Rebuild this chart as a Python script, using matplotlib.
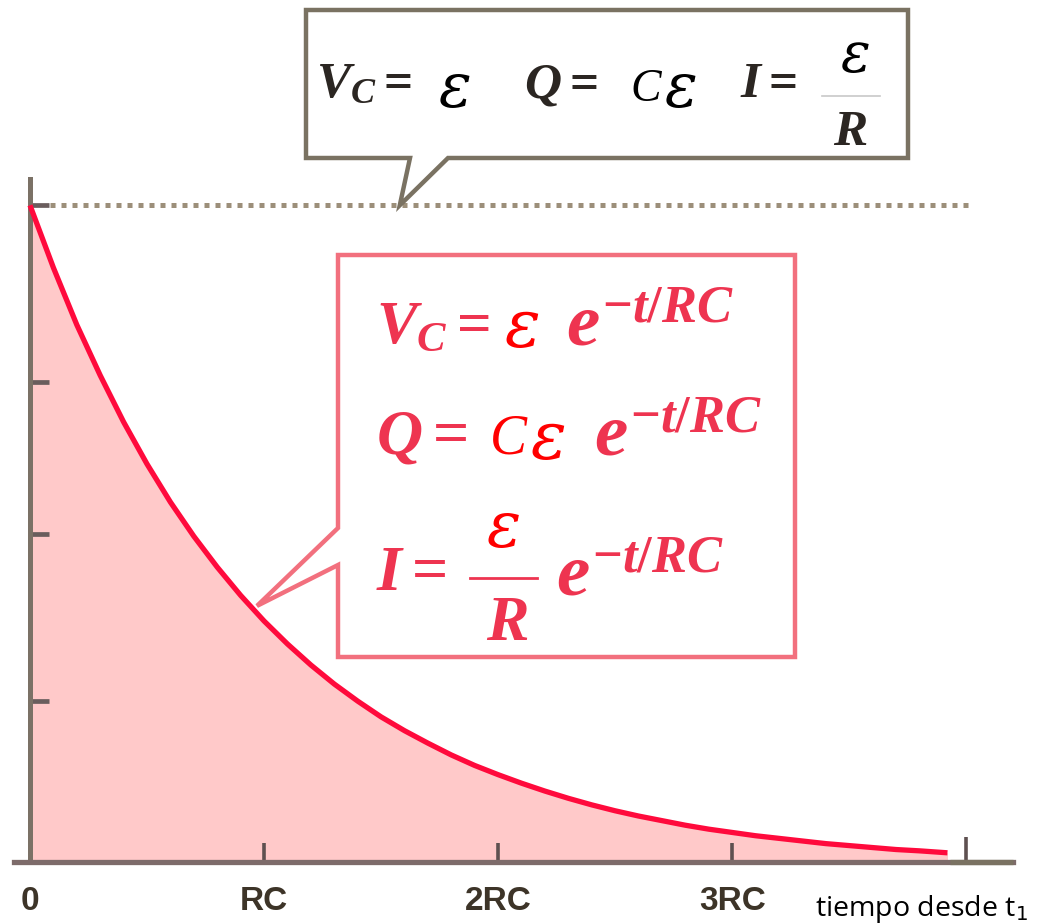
import numpy as np
import matplotlib
matplotlib.use("Agg")
import matplotlib.pyplot as plt
from matplotlib.patches import Polygon
from matplotlib.transforms import Affine2D

plt.rcParams['mathtext.fontset'] = 'custom'
plt.rcParams['mathtext.rm'] = 'Liberation Serif:bold'
plt.rcParams['mathtext.it'] = 'Liberation Serif:italic:bold'
plt.rcParams['mathtext.bf'] = 'Liberation Serif:bold'

# curve (time in units of RC, value as fraction of the final value)
t_rc = [0.0, 0.1, 0.2, 0.3, 0.4, 0.5, 0.6, 0.7, 0.8, 0.9,
        1.0, 1.1, 1.2, 1.3, 1.4, 1.5, 1.6, 1.7, 1.8, 1.9,
        2.0, 2.1, 2.2, 2.3, 2.4, 2.5, 2.6, 2.7, 2.8, 2.9,
        3.0, 3.1, 3.2, 3.3, 3.4, 3.5, 3.6, 3.7, 3.8, 3.92]
v_frac = [1.000, 0.905, 0.818, 0.741, 0.670, 0.606, 0.548, 0.496, 0.449, 0.406,
          0.367, 0.332, 0.300, 0.271, 0.245, 0.221, 0.200, 0.181, 0.163, 0.147,
          0.133, 0.120, 0.108, 0.097, 0.087, 0.078, 0.070, 0.063, 0.056, 0.050,
          0.045, 0.040, 0.036, 0.032, 0.028, 0.025, 0.022, 0.019, 0.017, 0.014]

xtick_pos = [0, 1, 2, 3, 4]
xtick_labels = ['0', 'RC', '2RC', '3RC', '']
ytick_pos = [0.245, 0.5, 0.731, 1.0]

asymptote = 1.0
tip_top = (1.58, 1.0)      # where the upper callout points
tip_curve = (0.97, 0.39)   # where the pink callout points

W, H = 1040, 923
fig = plt.figure(figsize=(W / 100, H / 100), dpi=100)
ax = fig.add_axes([13.6 / W, 1 - 862 / H, (1013 - 13.6) / W, (862 - 179) / H])
ax.set_xlim(-0.07, 4.2)
ax.set_ylim(0, 1.04)
ax.patch.set_alpha(0)

# fill + curve
ax.fill_between(t_rc, v_frac, 0, color='#ffc9c9', lw=0, zorder=1)
ax.plot(t_rc, v_frac, color='#ff0a3c', lw=3.8, solid_capstyle='butt', zorder=3)

# dotted asymptote
ax.plot([0.085, 4.01], [asymptote, asymptote], color='#9c8f7a', lw=3.6,
        ls=(0, (1, 1.2)), dash_capstyle='butt', zorder=2, clip_on=False)

# spines
for s in ['top', 'right']:
    ax.spines[s].set_visible(False)
ax.spines['left'].set_position(('data', 0))
ax.spines['left'].set_color('#7b7166')
ax.spines['left'].set_linewidth(3.6)
ax.spines['bottom'].set_color('#7d6b6a')
ax.spines['bottom'].set_linewidth(3.8)
ax.spines['bottom'].set_zorder(2.5)
ax.plot([3.93, 4.2], [0, 0], color='#7a7262', lw=3.8, clip_on=False, zorder=2.6,
        solid_capstyle='butt')

ax.set_xticks(xtick_pos, xtick_labels)
ax.set_yticks(ytick_pos, [''] * len(ytick_pos))
ax.tick_params(axis='x', direction='in', length=14, width=2.6, color='#5e5050', pad=17,
               labelsize=24, labelcolor='#3d3428')
ax.tick_params(axis='y', direction='in', length=14, width=3.4, color='#6a5d5d')
for lab in ax.get_xticklabels():
    lab.set_family('Liberation Sans')
    lab.set_fontweight('bold')
ax.yaxis.get_major_ticks()[-1].tick1line.set_color('#7b7166')
ax.xaxis.get_major_ticks()[-1].tick1line.set_color('#7a7262')
ax.xaxis.get_major_ticks()[-1].tick1line.set_markersize(18)

fig.text(815 / W, 1 - 916 / H, r'tiempo desde t$_1$', fontsize=20.5, family='Open Sans',
         math_fontfamily='dejavusans', color='black', va='baseline', ha='left')

# callout boxes, drawn in image pixel coordinates (origin top-left)
px = Affine2D().scale(1 / W, -1 / H).translate(0, 1) + fig.transFigure


def to_px(pt):
    xd, yd = ax.transData.transform(pt)
    return (xd, H - yd)


tx, ty = to_px(tip_top)
top_box = [(306, 10), (908, 10), (908, 158), (448, 158), (tx, ty), (410, 158), (306, 158)]
fig.add_artist(Polygon(top_box, closed=True, transform=px, facecolor='white',
                       edgecolor='#7a7262', lw=3.2, joinstyle='miter'))

cx, cy = to_px(tip_curve)
pink_box = [(338, 255), (795, 255), (795, 657), (338, 657), (338, 565), (cx, cy), (338, 528)]
fig.add_artist(Polygon(pink_box, closed=True, transform=px, facecolor='white',
                       edgecolor='#f2707e', lw=3.2, joinstyle='miter'))


def put(x, y, s, **kw):
    fig.text(x / W, 1 - y / H, s, **kw)


eps = dict(family='DejaVu Serif', style='italic')
dark = '#2b2622'
# top box formulas
put(316, 97, r'$V_C=$', fontsize=37, color=dark, va='baseline')
put(438, 90, 'ε', fontsize=44, color='black', va='center', **eps)
put(524, 97, r'$Q=$', fontsize=37, color=dark, va='baseline')
put(630, 90, 'C', fontsize=33, color='black', family='Liberation Serif', style='italic',
    va='center')
put(664, 90, 'ε', fontsize=44, color='black', va='center', **eps)
put(740, 97, r'$I=$', fontsize=37, color=dark, va='baseline')
fig.add_artist(plt.Line2D([822, 880], [96, 96], transform=px, color='#c8c8c8', lw=1.2))
put(855, 57, 'ε', fontsize=40, color='black', va='center', ha='center', **eps)
put(850, 145, r'$R$', fontsize=37, color=dark, va='baseline', ha='center')

# pink box formulas
pk = '#ee3450'
rd = '#ff0000'
put(376, 343, r'$V_C=$', fontsize=44, color=pk, va='baseline')
put(504, 328, 'ε', fontsize=48, color=rd, va='center', **eps)
put(566, 345, r'$e^{-t/RC}$', fontsize=54, color=pk, va='baseline')

put(376, 453, r'$Q=$', fontsize=46, color=pk, va='baseline')
put(490, 440, 'C', fontsize=40, color=rd, family='Liberation Serif', style='italic', va='center')
put(530, 440, 'ε', fontsize=48, color=rd, va='center', **eps)
put(594, 455, r'$e^{-t/RC}$', fontsize=54, color=pk, va='baseline')

put(376, 590, r'$I=$', fontsize=46, color=pk, va='baseline')
fig.add_artist(plt.Line2D([470, 537], [578, 578], transform=px, color=pk, lw=2))
put(503, 530, 'ε', fontsize=46, color=rd, va='center', ha='center', **eps)
put(507, 640, r'$R$', fontsize=46, color=pk, va='baseline', ha='center')
put(556, 595, r'$e^{-t/RC}$', fontsize=54, color=pk, va='baseline')

fig.savefig('out.png', dpi=100)
